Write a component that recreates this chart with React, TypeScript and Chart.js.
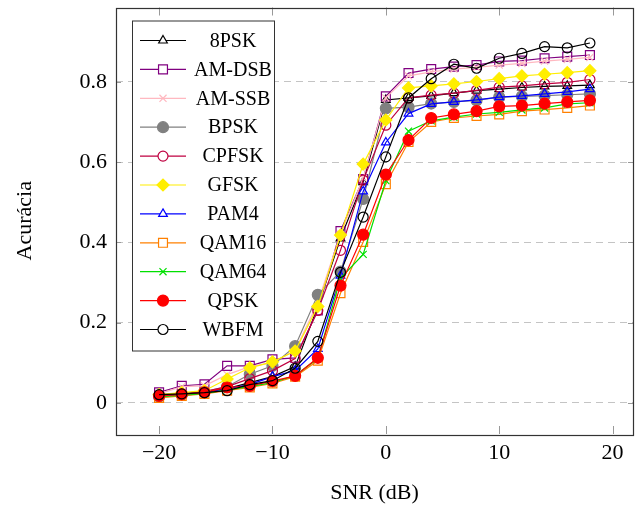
import React, { useEffect, useRef } from "react";
import { Chart, registerables } from "chart.js";
import { drawPoint } from "chart.js/helpers";

Chart.register(...registerables);

const snr = [-20, -18, -16, -14, -12, -10, -8, -6, -4, -2, 0, 2, 4, 6, 8, 10, 12, 14, 16, 18];

const psk8 = [0.02, 0.022, 0.028, 0.035, 0.05, 0.065, 0.09, 0.24, 0.41, 0.55, 0.755, 0.76, 0.765, 0.772, 0.778, 0.782, 0.786, 0.789, 0.79, 0.792];
const amDsb = [0.026, 0.042, 0.046, 0.092, 0.092, 0.108, 0.112, 0.23, 0.428, 0.558, 0.764, 0.822, 0.832, 0.838, 0.842, 0.851, 0.853, 0.859, 0.863, 0.867];
const amSsb = [0.022, 0.04, 0.042, 0.07, 0.09, 0.1, 0.13, 0.25, 0.42, 0.56, 0.76, 0.815, 0.825, 0.832, 0.836, 0.842, 0.846, 0.852, 0.856, 0.861];
const bpsk = [0.015, 0.02, 0.028, 0.04, 0.071, 0.092, 0.141, 0.269, 0.327, 0.508, 0.734, 0.737, 0.746, 0.75, 0.754, 0.762, 0.764, 0.766, 0.768, 0.77];
const cpfsk = [0.018, 0.022, 0.028, 0.04, 0.06, 0.08, 0.11, 0.23, 0.38, 0.555, 0.692, 0.76, 0.767, 0.772, 0.779, 0.787, 0.79, 0.795, 0.799, 0.806];
const gfsk = [0.02, 0.025, 0.03, 0.059, 0.087, 0.102, 0.129, 0.24, 0.418, 0.595, 0.705, 0.785, 0.79, 0.795, 0.801, 0.808, 0.815, 0.819, 0.823, 0.828];
const pam4 = [0.016, 0.02, 0.025, 0.035, 0.045, 0.065, 0.08, 0.134, 0.317, 0.527, 0.649, 0.721, 0.745, 0.75, 0.755, 0.762, 0.765, 0.77, 0.775, 0.782];
const qam16 = [0.012, 0.017, 0.022, 0.03, 0.038, 0.048, 0.065, 0.105, 0.273, 0.401, 0.545, 0.65, 0.7, 0.71, 0.715, 0.719, 0.727, 0.731, 0.735, 0.741];
const qam64 = [0.015, 0.018, 0.023, 0.032, 0.04, 0.05, 0.068, 0.11, 0.31, 0.37, 0.554, 0.677, 0.703, 0.712, 0.72, 0.724, 0.73, 0.735, 0.745, 0.748];
const qpsk = [0.017, 0.021, 0.026, 0.038, 0.042, 0.054, 0.067, 0.112, 0.292, 0.419, 0.569, 0.655, 0.71, 0.719, 0.727, 0.739, 0.741, 0.746, 0.75, 0.754];
const wbfm = [0.02, 0.022, 0.025, 0.03, 0.045, 0.055, 0.086, 0.153, 0.325, 0.463, 0.613, 0.76, 0.808, 0.844, 0.834, 0.859, 0.871, 0.888, 0.885, 0.897];

const labels = ["8PSK", "AM-DSB", "AM-SSB", "BPSK", "CPFSK", "GFSK", "PAM4", "QAM16", "QAM64", "QPSK", "WBFM"];
const values = [psk8, amDsb, amSsb, bpsk, cpfsk, gfsk, pam4, qam16, qam64, qpsk, wbfm];

const xTicks = [-20, -10, 0, 10, 20];
const yTicks = [0, 0.2, 0.4, 0.6, 0.8];

type Sty = { color: string; style: string; radius: number; filled: boolean };
const styles: Sty[] = [
  { color: "#000000", style: "triangle", radius: 5, filled: false },
  { color: "#800080", style: "rect", radius: 6.3, filled: false },
  { color: "#ffb8c0", style: "crossRot", radius: 5, filled: false },
  { color: "#808080", style: "circle", radius: 5.5, filled: true },
  { color: "#bf0040", style: "circle", radius: 5, filled: false },
  { color: "#ffee00", style: "rectRot", radius: 6, filled: true },
  { color: "#0000ff", style: "triangle", radius: 5, filled: false },
  { color: "#ff8000", style: "rect", radius: 6.3, filled: false },
  { color: "#00e000", style: "crossRot", radius: 5, filled: false },
  { color: "#ff0000", style: "circle", radius: 5.5, filled: true },
  { color: "#000000", style: "circle", radius: 5, filled: false },
];

const SERIF = '"Liberation Serif", "DejaVu Serif", serif';

const framePlugin = {
  id: "frame",
  afterDatasetsDraw(chart: any) {
    const { ctx, chartArea } = chart;
    const { left, right, top, bottom } = chartArea;
    const xs = chart.scales.x;
    const ys = chart.scales.y;
    ctx.save();
    ctx.strokeStyle = "#999999";
    ctx.lineWidth = 1;
    ctx.beginPath();
    for (const v of xTicks) {
      const px = Math.round(xs.getPixelForValue(v)) + 0.5;
      ctx.moveTo(px, bottom);
      ctx.lineTo(px, bottom - 8);
      ctx.moveTo(px, top);
      ctx.lineTo(px, top + 8);
    }
    for (const v of yTicks) {
      const py = Math.round(ys.getPixelForValue(v)) + 0.5;
      ctx.moveTo(left, py);
      ctx.lineTo(left + 5, py);
      ctx.moveTo(right, py);
      ctx.lineTo(right - 5, py);
    }
    ctx.stroke();
    ctx.strokeStyle = "#333333";
    ctx.lineWidth = 1.2;
    ctx.strokeRect(Math.round(left) + 0.5, Math.round(top) + 0.5, Math.round(right - left), Math.round(bottom - top));
    ctx.restore();
  },
  afterDraw(chart: any) {
    const { ctx, chartArea } = chart;
    const lx = chartArea.left + 16;
    const ly = chartArea.top + 13;
    const w = 142;
    const h = 330;
    ctx.save();
    ctx.fillStyle = "#ffffff";
    ctx.fillRect(lx, ly, w, h);
    ctx.strokeStyle = "#333333";
    ctx.lineWidth = 1;
    ctx.strokeRect(lx + 0.5, ly + 0.5, w, h);
    const step = 28.9;
    labels.forEach((lab, i) => {
      const s = styles[i];
      const cy = ly + 20 + i * step;
      ctx.strokeStyle = s.color;
      ctx.lineWidth = 1.2;
      ctx.beginPath();
      ctx.moveTo(lx + 8, cy);
      ctx.lineTo(lx + 54, cy);
      ctx.stroke();
      ctx.fillStyle = s.filled ? s.color : "#ffffff";
      ctx.strokeStyle = s.color;
      ctx.lineWidth = 1.2;
      drawPoint(ctx, { pointStyle: s.style as any, rotation: 0, radius: s.radius, borderWidth: 1.2 } as any, lx + 31, cy);
      ctx.fillStyle = "#000000";
      ctx.font = `20px ${SERIF}`;
      ctx.textAlign = "center";
      ctx.textBaseline = "middle";
      ctx.fillText(lab, lx + 101, cy + 1);
    });
    ctx.restore();
  },
};

export default function App() {
  const ref = useRef<HTMLCanvasElement>(null);
  useEffect(() => {
    document.body.style.margin = "0";
    const datasets = values.map((vals, i) => {
      const s = styles[i];
      return {
        label: labels[i],
        data: snr.map((x, j) => ({ x, y: vals[j] })),
        borderColor: s.color,
        backgroundColor: s.filled ? s.color : "rgba(0,0,0,0)",
        pointStyle: s.style,
        pointRadius: s.radius,
        pointBorderColor: s.color,
        pointBackgroundColor: s.filled ? s.color : "rgba(0,0,0,0)",
        pointBorderWidth: 1.2,
        borderWidth: 1.2,
        tension: 0,
        fill: false,
        order: labels.length - i,
      };
    });
    const chart = new Chart(ref.current!, {
      type: "line",
      data: { datasets: datasets as any },
      plugins: [framePlugin],
      options: {
        animation: false,
        responsive: false,
        devicePixelRatio: 1,
        layout: { padding: { top: 4, right: 10, left: 0, bottom: 0 } },
        plugins: { legend: { display: false }, tooltip: { enabled: false } },
        scales: {
          x: {
            type: "linear",
            min: -23.8,
            max: 21.8,
            afterBuildTicks: (scale: any) => {
              scale.ticks = xTicks.map((v) => ({ value: v }));
            },
            afterFit: (scale: any) => {
              scale.height = 76;
              scale.paddingLeft = 0;
              scale.paddingRight = 0;
            },
            grid: { display: false, drawTicks: false },
            border: { display: false },
            ticks: {
              padding: 6,
              color: "#000",
              font: { family: SERIF, size: 22 },
              callback: (v: any) => (Number(v) < 0 ? "\u2212" + Math.abs(Number(v)) : String(v)),
            },
            title: {
              display: true,
              text: "SNR (dB)",
              color: "#000",
              font: { family: SERIF, size: 22 },
              padding: { top: 0, bottom: 4 },
            },
          },
          y: {
            type: "linear",
            min: -0.078,
            max: 0.9855,
            afterBuildTicks: (scale: any) => {
              scale.ticks = yTicks.map((v) => ({ value: v }));
            },
            afterFit: (scale: any) => {
              scale.width = 116;
              scale.paddingTop = 0;
              scale.paddingBottom = 0;
            },
            grid: {
              display: true,
              drawTicks: false,
              color: "#c4c4c4",
              lineWidth: 1,
            },
            border: { display: false, dash: [7, 5] },
            ticks: {
              padding: 9,
              color: "#000",
              font: { family: SERIF, size: 22 },
              callback: (v: any) => String(Math.round(Number(v) * 10) / 10),
            },
            title: {
              display: true,
              text: "Acurácia",
              color: "#000",
              font: { family: SERIF, size: 22 },
              padding: { top: 12, bottom: 0 },
            },
          },
        },
      },
    });
    return () => chart.destroy();
  }, []);
  return (
    <div style={{ width: 643, height: 510 }}>
      <canvas ref={ref} width={643} height={510} />
    </div>
  );
}
